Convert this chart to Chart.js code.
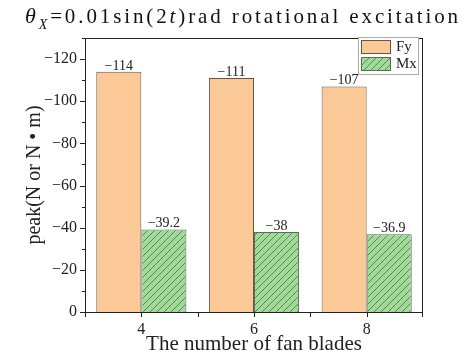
<!DOCTYPE html>
<html>
<head>
<meta charset="utf-8">
<script src="https://cdn.jsdelivr.net/npm/chart.js@4/dist/chart.umd.min.js"></script>
<style>
html,body{margin:0;padding:0;background:#fff;}
#wrap{width:464px;height:357px;}
</style>
</head>
<body>
<div id="wrap"><canvas id="c" width="464" height="357"></canvas></div>
<script>
const categories = ['4', '6', '8'];
const fyValues = [-114, -111, -107];
const mxValues = [-39.2, -38, -36.9];
const fyLabels = ['−114', '−111', '−107'];
const mxLabels = ['−39.2', '−38', '−36.9'];
const yTickValues = [0, -20, -40, -60, -80, -100, -120];
const yMinorValues = [-10, -30, -50, -70, -90, -110, -130];

const SERIF = '"Liberation Serif", "DejaVu Serif", serif';

function hatch() {
  const c = document.createElement('canvas');
  c.width = 7; c.height = 7;
  const g = c.getContext('2d');
  g.fillStyle = '#a4d99c';
  g.fillRect(0, 0, 7, 7);
  g.strokeStyle = '#3f7a3f';
  g.lineWidth = 0.8;
  g.beginPath();
  g.moveTo(-1, 8); g.lineTo(8, -1);
  g.moveTo(-1, 1); g.lineTo(1, -1);
  g.moveTo(6, 8); g.lineTo(8, 6);
  g.stroke();
  return g.createPattern(c, 'repeat');
}
const mxPattern = hatch();

const decoPlugin = {
  id: 'deco',
  afterDatasetsDraw(chart) {
    const ctx = chart.ctx;
    const ca = chart.chartArea;
    const xs = chart.scales.x, ys = chart.scales.y;
    ctx.save();
    // data labels
    const labelSets = [fyLabels, mxLabels];
    ctx.font = '14px ' + SERIF;
    ctx.textAlign = 'center';
    ctx.textBaseline = 'alphabetic';
    chart.data.datasets.forEach((ds, di) => {
      chart.getDatasetMeta(di).data.forEach((bar, i) => {
        const t = labelSets[di][i];
        const w = ctx.measureText(t).width;
        ctx.fillStyle = '#fff';
        ctx.fillRect(bar.x - w / 2 - 1, bar.y - 12, w + 2, 11);
        ctx.fillStyle = '#222';
        ctx.fillText(t, bar.x, bar.y - 2);
      });
    });
    // frame
    ctx.strokeStyle = '#222';
    ctx.lineWidth = 1;
    ctx.strokeRect(Math.round(ca.left) + 0.5, Math.round(ca.top) + 0.5,
      Math.round(ca.right - ca.left) - 1, Math.round(ca.bottom - ca.top));
    // y ticks
    ctx.beginPath();
    yTickValues.forEach(v => {
      const y = Math.round(ys.getPixelForValue(v)) + 0.5;
      ctx.moveTo(ca.left, y); ctx.lineTo(ca.left - 5, y);
    });
    yMinorValues.forEach(v => {
      const y = Math.round(ys.getPixelForValue(v)) + 0.5;
      ctx.moveTo(ca.left, y); ctx.lineTo(ca.left - 3, y);
    });
    // x ticks
    const cw = (ca.right - ca.left) / categories.length;
    categories.forEach((c, i) => {
      const xc = Math.round(xs.getPixelForValue(i)) + 0.5;
      ctx.moveTo(xc, ca.bottom); ctx.lineTo(xc, ca.bottom + 5);
    });
    for (let i = 0; i <= categories.length; i++) {
      const xb = Math.round(ca.left + i * cw) + (i === categories.length ? -0.5 : 0.5);
      ctx.moveTo(xb, ca.bottom); ctx.lineTo(xb, ca.bottom + 5);
    }
    ctx.stroke();
    // legend
    const lx = ca.right - 65, ly = ca.top - 1;
    ctx.fillStyle = '#fff';
    ctx.fillRect(lx, ly, 60, 37);
    ctx.strokeStyle = '#aaa';
    ctx.strokeRect(lx + 0.5, ly + 0.5, 60, 37);
    ctx.font = '15px ' + SERIF;
    ctx.textAlign = 'left';
    ctx.textBaseline = 'middle';
    chart.data.datasets.forEach((ds, di) => {
      const sy = ly + 3 + di * 17;
      ctx.fillStyle = ds.backgroundColor;
      ctx.fillRect(lx + 3, sy, 30, 14);
      ctx.strokeStyle = ds.borderColor;
      ctx.strokeRect(lx + 3.5, sy + 0.5, 29, 13);
      ctx.fillStyle = '#222';
      ctx.fillText(ds.label, lx + 38, sy + 7);
    });
    // title
    const parts = [
      {t: 'θ', f: 'italic 22px ' + SERIF, dy: 0},
      {t: 'X', f: 'italic 14px ' + SERIF, dy: 6},
      {t: '=0.01sin(2', f: '21px ' + SERIF, dy: 0},
      {t: 't', f: 'italic 21px ' + SERIF, dy: 0},
      {t: ')rad rotational excitation', f: '21px ' + SERIF, dy: 0}
    ];
    let nat = 0, nch = 0;
    parts.forEach(p => { ctx.font = p.f; nat += ctx.measureText(p.t).width; nch += p.t.length; });
    const target = 436;
    const ls = Math.max(0, (target - nat) / nch);
    ctx.letterSpacing = ls + 'px';
    ctx.fillStyle = '#111';
    ctx.textBaseline = 'alphabetic';
    ctx.textAlign = 'left';
    let x = 25;
    parts.forEach(p => {
      ctx.font = p.f;
      ctx.fillText(p.t, x, 23 + p.dy);
      x += ctx.measureText(p.t).width;
    });
    ctx.letterSpacing = '0px';
    ctx.restore();
  }
};

new Chart(document.getElementById('c'), {
  type: 'bar',
  data: {
    labels: categories,
    datasets: [
      {label: 'Fy', data: fyValues, backgroundColor: '#fbc898', borderColor: '#6e5440', borderWidth: 1},
      {label: 'Mx', data: mxValues, backgroundColor: mxPattern, borderColor: '#566d56', borderWidth: 1}
    ]
  },
  plugins: [decoPlugin],
  options: {
    responsive: false,
    animation: false,
    devicePixelRatio: 1,
    layout: {padding: {left: 0, right: 41, top: 38, bottom: 0}},
    plugins: {legend: {display: false}, tooltip: {enabled: false}, title: {display: false}},
    datasets: {bar: {categoryPercentage: 0.8, barPercentage: 1.0}},
    scales: {
      x: {
        offset: true,
        grid: {display: false, drawTicks: false},
        border: {display: false},
        ticks: {color: '#222', font: {family: SERIF, size: 16}, padding: 8},
        title: {display: true, text: 'The number of fan blades', color: '#222',
                font: {family: SERIF, size: 21}, padding: {top: 0, bottom: 0}},
        afterFit(s) { s.height = 45; }
      },
      y: {
        min: -130, max: 0, reverse: true,
        grid: {display: false, drawTicks: false},
        border: {display: false},
        afterBuildTicks(s) { s.ticks = yTickValues.map(v => ({value: v})); },
        ticks: {color: '#222', font: {family: SERIF, size: 16}, padding: 8,
                callback: v => (v < 0 ? '−' + Math.abs(v) : String(v))},
        title: {display: true, text: 'peak(N or N • m)', color: '#222',
                font: {family: SERIF, size: 20}, padding: {top: 23, bottom: 0}},
        afterFit(s) { s.width = 85; }
      }
    }
  }
});
</script>
</body>
</html>
